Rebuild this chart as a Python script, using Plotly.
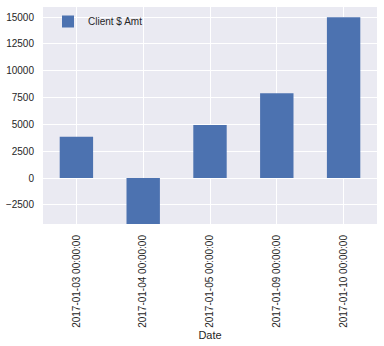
import plotly.graph_objects as go

dates = ["2017-01-03 00:00:00", "2017-01-04 00:00:00", "2017-01-05 00:00:00",
         "2017-01-09 00:00:00", "2017-01-10 00:00:00"]
amounts = [3850, -5000, 4950, 7900, 15000]
series_name = "Client $ Amt"
y_ticks = [-2500, 0, 2500, 5000, 7500, 10000, 12500, 15000]
y_tick_labels = ["\u22122500", "0", "2500", "5000", "7500", "10000", "12500", "15000"]

fig = go.Figure()
fig.add_trace(go.Bar(x=list(range(len(dates))), y=amounts, name=series_name,
                     marker=dict(color="#4C72B0", line=dict(width=0)), width=0.5,
                     showlegend=True))

fig.update_layout(
    width=384, height=346,
    margin=dict(l=43, r=7, t=7, b=122),
    paper_bgcolor="white", plot_bgcolor="#EAEAF2",
    font=dict(family="Liberation Sans, Arial, sans-serif", size=10, color="#262626"),
    showlegend=True,
    legend=dict(x=0.015, y=1.0, xanchor="left", yanchor="top",
                bgcolor="rgba(0,0,0,0)", font=dict(size=10)),
    bargap=0.5,
)
fig.update_xaxes(range=[-0.5, 4.5], tickmode="array", tickvals=list(range(len(dates))),
                 ticktext=dates, tickangle=-90, showgrid=True, gridcolor="white",
                 gridwidth=1, zeroline=False, showline=False,
                 ticks="outside", ticklen=6, tickcolor="rgba(0,0,0,0)",
                 title=dict(text="Date", font=dict(size=11), standoff=4))
fig.update_yaxes(range=[-4290, 15950], tickmode="array", tickvals=y_ticks,
                 ticktext=y_tick_labels,
                 showgrid=True, gridcolor="white", gridwidth=1, zeroline=False,
                 showline=False, ticks="outside", ticklen=6, tickcolor="rgba(0,0,0,0)")

fig.write_html("out.html")
